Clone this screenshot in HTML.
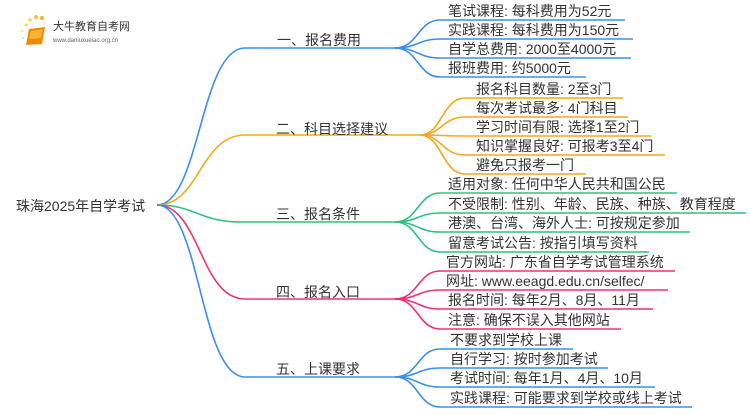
<!DOCTYPE html>
<html><head><meta charset="utf-8"><style>
body{margin:0;background:#fff;width:750px;height:410px;overflow:hidden}
svg text{font-family:"Liberation Sans","Noto Sans CJK SC",sans-serif;fill:#333}
</style></head><body>
<svg width="750" height="410" viewBox="0 0 750 410" xmlns="http://www.w3.org/2000/svg">
<g fill="none" stroke-width="1.6">
<path d="M157 205 C200 205,200 48,245 48 H395" stroke="#3b8ef0"/>
<path d="M157 205 C200 205,200 135,245 135 H420" stroke="#f5a81c"/>
<path d="M157 205 C195 205,200 222,240 222 H395" stroke="#2ec27e"/>
<path d="M157 205 C200 205,200 299,245 299 H395" stroke="#f0307a"/>
<path d="M157 205 C200 205,200 377,245 377 H395" stroke="#3b8ef0"/>
<g stroke="#3b8ef0">
<path d="M395 48 C418 48,418 20,440 20 H625"/>
<path d="M395 48 C418 48,418 39,440 39 H633"/>
<path d="M395 48 C418 48,418 58,440 58 H631"/>
<path d="M395 48 C418 48,418 77,440 77 H586"/>
</g>
<g stroke="#f5a81c">
<path d="M420 135 C442 135,442 98,465 98 H623"/>
<path d="M420 135 C442 135,442 117,465 117 H628"/>
<path d="M420 135 C442 135,442 136,465 136 H651"/>
<path d="M420 135 C442 135,442 155,465 155 H665"/>
<path d="M420 135 C442 135,442 174,465 174 H586"/>
</g>
<g stroke="#2ec27e">
<path d="M395 222 C418 222,418 193,440 193 H677"/>
<path d="M395 222 C418 222,418 213,440 213 H746"/>
<path d="M395 222 C418 222,418 232,440 232 H690"/>
<path d="M395 222 C418 222,418 252,440 252 H649"/>
</g>
<g stroke="#f0307a">
<path d="M395 299 C418 299,418 271,440 271 H675"/>
<path d="M395 299 C418 299,418 290,440 290 H668"/>
<path d="M395 299 C418 299,418 309,440 309 H653"/>
<path d="M395 299 C418 299,418 329,440 329 H621"/>
</g>
<g stroke="#3b8ef0">
<path d="M395 377 C418 377,418 349,440 349 H573"/>
<path d="M395 377 C418 377,418 368,440 368 H608"/>
<path d="M395 377 C418 377,418 387,440 387 H655"/>
<path d="M395 377 C418 377,418 407,440 407 H692"/>
</g>
</g>
<g>
<circle cx="26" cy="25" r="1.5" fill="#fbd36b"/><circle cx="30" cy="20" r="1.8" fill="#fbd36b"/>
<circle cx="36" cy="17" r="2" fill="#fbc13a"/><circle cx="42" cy="18" r="2" fill="#f9b020"/>
<circle cx="22" cy="31" r="1.3" fill="#fde3a0"/><circle cx="23" cy="38" r="1.2" fill="#fde3a0"/>
<path d="M29 29 L45 27 L42 44 L26 45 Z" fill="#f28a00"/>
<path d="M31 31 L43 29.5 L41 38 L29 39 Z" fill="#fbb33a"/>
<text x="53" y="30" font-size="11" style="fill:#333">大牛教育自考网</text>
<text x="53" y="42" font-size="6" style="fill:#666">www.daniuxueiao.org.cn</text>
</g>
<text x="16" y="211" font-size="14">珠海2025年自学考试</text>
<g font-size="14">
<text x="277" y="45">一、报名费用</text>
<text x="276" y="134">二、科目选择建议</text>
<text x="276" y="219">三、报名条件</text>
<text x="276" y="297">四、报名入口</text>
<text x="276" y="374">五、上课要求</text>
</g>
<g font-size="14">
<text x="448" y="16">笔试课程: 每科费用为52元</text>
<text x="448" y="35">实践课程: 每科费用为150元</text>
<text x="448" y="54">自学总费用: 2000至4000元</text>
<text x="448" y="73">报班费用: 约5000元</text>
<text x="476" y="94">报名科目数量: 2至3门</text>
<text x="476" y="113">每次考试最多: 4门科目</text>
<text x="476" y="132">学习时间有限: 选择1至2门</text>
<text x="476" y="151">知识掌握良好: 可报考3至4门</text>
<text x="476" y="170">避免只报考一门</text>
<text x="448" y="189">适用对象: 任何中华人民共和国公民</text>
<text x="448" y="209">不受限制: 性别、年龄、民族、种族、教育程度</text>
<text x="448" y="228">港澳、台湾、海外人士: 可按规定参加</text>
<text x="448" y="248">留意考试公告: 按指引填写资料</text>
<text x="446" y="267">官方网站: 广东省自学考试管理系统</text>
<text x="446" y="286">网址: www.eeagd.edu.cn/selfec/</text>
<text x="448" y="305">报名时间: 每年2月、8月、11月</text>
<text x="448" y="325">注意: 确保不误入其他网站</text>
<text x="450" y="345">不要求到学校上课</text>
<text x="450" y="364">自行学习: 按时参加考试</text>
<text x="450" y="383">考试时间: 每年1月、4月、10月</text>
<text x="450" y="403">实践课程: 可能要求到学校或线上考试</text>
</g>
</svg>
</body></html>
